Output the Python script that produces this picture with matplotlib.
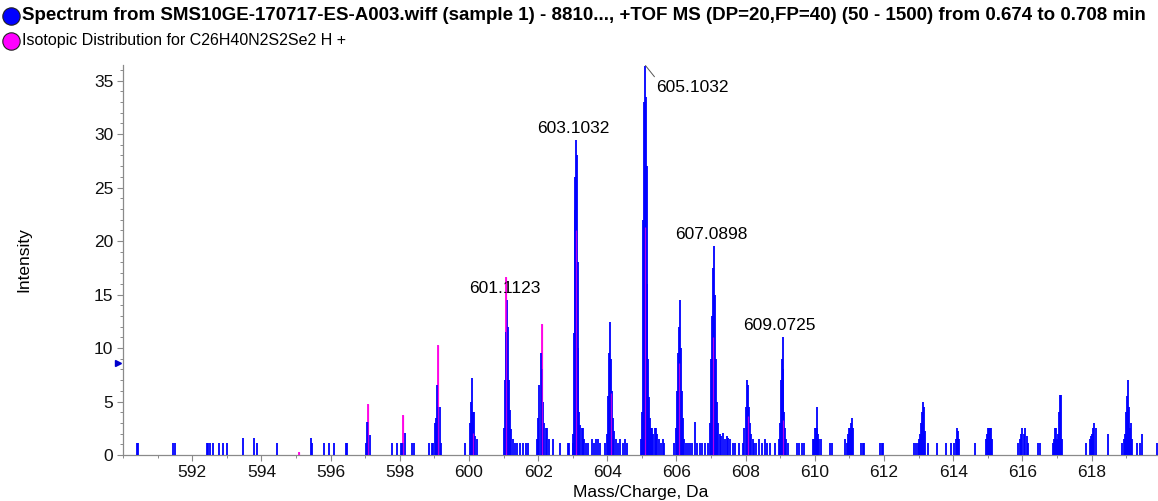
import matplotlib
matplotlib.use("Agg")
import matplotlib.pyplot as plt
from matplotlib.lines import Line2D
from matplotlib.ticker import MultipleLocator
import matplotlib.transforms as mtransforms

plt.rcParams['font.family'] = ['Liberation Sans', 'DejaVu Sans']

# measured TOF spectrum, m/z and intensity (profile sticks)
spec_mz = [
    590.40, 590.44, 591.45, 591.49, 592.42, 592.47, 592.52, 592.60, 592.78, 592.88, 593.00,
    593.46, 593.79, 593.88, 594.44, 595.43, 595.47, 595.81, 595.96, 596.11, 596.44, 596.47,
    597.02, 597.06, 597.09, 597.14, 597.77, 597.91,
    598.04, 598.07, 598.10, 598.15, 598.36, 598.40, 598.85, 598.92, 598.97,
    599.02, 599.05, 599.08, 599.12, 599.15, 599.20, 599.90,
    600.02, 600.05, 600.08, 600.11, 600.14, 600.17, 600.22,
    601.02, 601.05, 601.08, 601.1123, 601.13, 601.16, 601.19, 601.23, 601.27,
    601.33, 601.40, 601.48, 601.56, 601.64, 601.72,
    601.96, 602.00, 602.04, 602.07, 602.10, 602.13, 602.17, 602.22, 602.27, 602.31,
    602.44, 602.63, 602.86, 602.90,
    603.00, 603.02, 603.04, 603.06, 603.08, 603.1032, 603.12, 603.14, 603.16, 603.19,
    603.22, 603.26, 603.30, 603.34, 603.39, 603.44, 603.55, 603.62, 603.66, 603.72, 603.80,
    603.93, 603.98, 604.03, 604.06, 604.09, 604.11, 604.14, 604.17, 604.20, 604.25,
    604.30, 604.38, 604.44, 604.50, 604.56,
    604.98, 605.01, 605.04, 605.07, 605.1032, 605.12, 605.14, 605.16, 605.18, 605.21,
    605.24, 605.27, 605.30, 605.33, 605.37, 605.41, 605.45, 605.50, 605.55, 605.60, 605.65,
    605.93, 605.98, 606.02, 606.05, 606.08, 606.10, 606.12, 606.15, 606.18, 606.22,
    606.27, 606.33, 606.38, 606.45, 606.53, 606.60, 606.68, 606.75, 606.82,
    606.92, 606.97, 607.00, 607.03, 607.06, 607.0898, 607.11, 607.13, 607.16, 607.20,
    607.25, 607.30, 607.35, 607.40, 607.45, 607.50, 607.55, 607.62, 607.70, 607.80,
    607.92, 607.96, 608.00, 608.04, 608.07, 608.10, 608.13, 608.16, 608.20, 608.25,
    608.30, 608.40, 608.47, 608.55, 608.62, 608.70, 608.85,
    608.96, 608.99, 609.02, 609.05, 609.0725, 609.09, 609.11, 609.14, 609.17, 609.22,
    609.47, 609.55, 609.62, 609.70,
    609.94, 609.97, 610.00, 610.03, 610.05, 610.07, 610.10, 610.13, 610.17, 610.45, 610.50,
    610.87, 610.92, 610.97, 611.00, 611.03, 611.05, 611.08, 611.11,
    611.33, 611.38, 611.42, 611.88, 611.93, 611.97,
    612.87, 612.93, 612.98, 613.02, 613.05, 613.08, 613.10, 613.13, 613.15, 613.18, 613.27,
    613.52, 613.80, 613.95, 614.02, 614.07, 614.10, 614.13, 614.16, 614.63,
    614.94, 614.97, 615.00, 615.03, 615.06, 615.10, 615.13,
    615.88, 615.93, 615.97, 616.00, 616.04, 616.08, 616.12, 616.16, 616.45, 616.52,
    616.88, 616.92, 616.95, 616.98, 617.01, 617.04, 617.07, 617.10, 617.13, 617.15,
    617.85, 617.95, 617.98, 618.02, 618.05, 618.08, 618.12, 618.48,
    618.89, 618.93, 618.97, 619.00, 619.03, 619.06, 619.09, 619.12, 619.15, 619.18,
    619.30, 619.39, 619.46, 619.88,
]
spec_int = [
    1.1, 1.1, 1.1, 1.1, 1.1, 1.1, 1.1, 1.1, 1.1, 1.1, 1.1,
    1.55, 1.55, 1.1, 1.1, 1.55, 1.1, 1.1, 1.1, 1.1, 1.1, 1.1,
    1.1, 3.1, 3.1, 1.85, 1.1, 1.1,
    1.1, 1.1, 1.1, 2.1, 1.1, 1.1, 1.1, 1.1, 1.1,
    3.0, 3.5, 6.5, 4.5, 4.5, 1.1, 1.1,
    3.0, 5.0, 7.2, 4.0, 4.0, 1.8, 1.5,
    2.5, 7.0, 11.5, 14.5, 12.0, 7.0, 4.2, 2.4, 1.5,
    1.1, 1.1, 1.1, 1.1, 1.1, 1.1,
    1.5, 3.5, 6.5, 9.5, 8.0, 5.0, 3.0, 2.5, 2.5, 1.5,
    1.5, 1.1, 1.1, 1.1,
    1.1, 2.0, 11.4, 22.9, 26.0, 29.4, 28.0, 18.0, 10.0, 4.0,
    2.8, 2.5, 2.5, 1.5, 1.1, 1.1, 1.5, 1.1, 1.5, 1.5, 1.1,
    1.1, 2.0, 5.5, 9.5, 12.4, 9.0, 6.0, 3.5, 2.2, 1.5,
    1.1, 1.5, 1.1, 1.5, 1.1,
    1.5, 4.0, 22.0, 33.0, 36.4, 33.5, 27.0, 16.0, 9.0, 5.4,
    3.5, 2.5, 2.5, 2.0, 2.5, 2.5, 2.0, 1.5, 1.1, 1.5, 1.1,
    1.1, 2.5, 6.0, 9.5, 12.0, 14.5, 10.0, 6.0, 3.5, 1.5,
    1.1, 1.1, 1.1, 1.1, 3.1, 1.1, 1.1, 1.1, 1.1,
    1.1, 3.0, 9.0, 13.0, 17.5, 19.5, 15.0, 9.0, 5.0, 3.0,
    2.0, 1.8, 2.1, 1.5, 1.8, 1.6, 1.5, 1.1, 1.1, 1.1,
    1.1, 2.5, 4.5, 7.0, 6.5, 4.5, 3.0, 2.0, 1.5, 1.1,
    1.1, 1.5, 1.1, 1.5, 1.1, 1.1, 1.1,
    1.5, 3.0, 7.0, 9.0, 11.0, 8.0, 4.0, 2.5, 1.5, 1.1,
    1.1, 1.1, 1.1, 1.1,
    1.5, 1.5, 2.5, 2.5, 4.5, 2.5, 2.0, 1.5, 1.5, 1.1, 1.1,
    1.5, 1.1, 2.0, 2.5, 2.5, 3.0, 3.5, 2.5,
    1.1, 1.1, 1.1, 1.1, 1.1, 1.1,
    1.1, 1.1, 1.1, 1.5, 2.0, 3.0, 4.0, 5.0, 4.5, 2.2, 1.1,
    1.1, 1.1, 1.1, 1.1, 1.5, 2.5, 2.2, 1.5, 1.1,
    1.5, 2.0, 2.5, 2.5, 2.5, 2.5, 1.5,
    1.1, 1.5, 2.0, 2.5, 2.0, 2.5, 1.8, 1.1, 1.1, 1.1,
    1.1, 1.5, 2.5, 2.5, 1.5, 2.0, 4.0, 5.6, 5.6, 1.5,
    1.1, 1.5, 1.8, 2.0, 2.5, 3.0, 2.5, 2.0,
    1.1, 1.5, 2.0, 4.0, 5.5, 7.0, 4.5, 2.5, 3.0, 1.5,
    1.1, 1.1, 2.0, 1.1,
]

# theoretical isotope pattern for C26H40N2S2Se2 H+
iso_mz = [595.10, 597.09, 598.08, 599.11, 600.12, 601.07, 602.10,
          603.09, 604.10, 605.08, 606.08, 607.07, 608.07, 609.07]
iso_int = [0.25, 4.8, 3.7, 10.3, 2.1, 16.6, 12.2,
           21.0, 5.8, 21.3, 8.6, 11.0, 3.6, 3.3]

# labelled peaks
label_mz = [601.1123, 603.1032, 605.1032, 607.0898, 609.0725]

threshold = 8.6

title_spec = ("Spectrum from SMS10GE-170717-ES-A003.wiff (sample 1) - 8810..., "
              "+TOF MS (DP=20,FP=40) (50 - 1500) from 0.674 to 0.708 min")
title_iso = "Isotopic Distribution for C26H40N2S2Se2 H +"

W, H = 1158, 501
fig = plt.figure(figsize=(W / 100, H / 100), dpi=100)
ax = fig.add_axes([123 / W, 46 / H, (W - 123) / W, 390 / H])

blue = '#0000ff'
pink = '#ff00e6'
ax.vlines(iso_mz, 0, iso_int, color=pink, lw=1.3, zorder=2)
ax.vlines(spec_mz, 0, spec_int, color=blue, lw=1.3, zorder=3)
ax.vlines(iso_mz, 0, iso_int, color=pink, lw=0.9, zorder=4, alpha=0.7)

ax.set_xlim(590, 619.92)
ax.set_ylim(0, 36.45)

for s in ('top', 'right'):
    ax.spines[s].set_visible(False)
for s in ('left', 'bottom'):
    ax.spines[s].set_color('#8a8a8a')
    ax.spines[s].set_linewidth(0.9)

ax.xaxis.set_major_locator(MultipleLocator(2))
ax.xaxis.set_minor_locator(MultipleLocator(1))
ax.yaxis.set_major_locator(MultipleLocator(5))
ax.yaxis.set_minor_locator(MultipleLocator(1))
ax.set_xticks(range(592, 620, 2))
ax.tick_params(which='major', length=4, width=0.8, color='#8a8a8a',
               labelsize=12.5, labelcolor='#111111', pad=3)
ax.tick_params(which='minor', length=2, width=0.7, color='#8a8a8a')

ax.set_xlabel('Mass/Charge, Da', fontsize=12.5, labelpad=4)
ax.set_ylabel('Intensity', fontsize=12.5, labelpad=45)

# peak labels
for mz in label_mz:
    h = spec_int[spec_mz.index(mz)]
    txt = f'{mz:.4f}'
    if mz == 605.1032:
        ax.annotate(txt, xy=(mz, h), xytext=(11, -14), textcoords='offset pixels',
                    ha='left', va='top', fontsize=12.5,
                    arrowprops=dict(arrowstyle='-', color='#555555', lw=0.7,
                                    shrinkA=0, shrinkB=0, relpos=(0.02, 0.9)))
    else:
        ax.annotate(txt, xy=(mz, h), xytext=(-3, 4), textcoords='offset pixels',
                    ha='center', va='bottom', fontsize=12.5)

# threshold marker on the intensity axis
trans = mtransforms.blended_transform_factory(ax.transAxes, ax.transData)
ax.plot([-0.005], [threshold], marker='>', ms=5, color='#0000cc',
        transform=trans, clip_on=False)

# legend header
fig.add_artist(Line2D([11 / W], [1 - 16 / H], marker='o', ms=12.5, mfc=blue,
                      mec='#202020', mew=0.8, transform=fig.transFigure))
fig.add_artist(Line2D([11 / W], [1 - 41 / H], marker='o', ms=12.5, mfc='#ff00ff',
                      mec='#202020', mew=0.8, transform=fig.transFigure))
fig.text(22 / W, 1 - 16 / H, title_spec, fontsize=13.5, fontweight='bold',
         va='center', ha='left')
fig.text(22 / W, 1 - 41 / H, title_iso, fontsize=11.5, va='center', ha='left')

fig.savefig('out.png', dpi=100)
